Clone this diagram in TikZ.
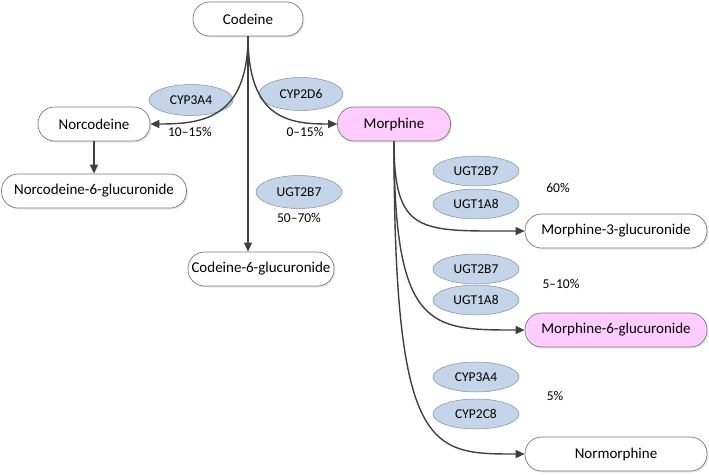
\documentclass[tikz,border=0pt]{standalone}
\usepackage{fontspec}
\setmainfont{Carlito}
\usetikzlibrary{shapes.geometric,shadows,arrows.meta}
\definecolor{pinkfill}{RGB}{255,204,255}
\definecolor{enzfill}{RGB}{196,213,233}
\definecolor{enzline}{RGB}{130,140,155}
\definecolor{boxline}{RGB}{120,120,120}
\definecolor{arrowcol}{RGB}{64,64,64}
\begin{document}
\begin{tikzpicture}[x=1pt,y=-1pt,
  compound/.style={draw=boxline,line width=0.7pt,fill=white,rectangle,rounded corners=16.5pt,
    minimum height=34pt,inner sep=0pt,font=\fontsize{15}{18}\selectfont,
    drop shadow={opacity=0.18,shadow xshift=1.5pt,shadow yshift=-1.5pt}},
  pinkbox/.style={compound,fill=pinkfill},
  enzyme/.style={draw=enzline,line width=0.5pt,fill=enzfill,ellipse,minimum width=86pt,
    minimum height=30pt,inner sep=0pt,font=\fontsize{13.5}{16}\selectfont},
  pct/.style={font=\fontsize{13.5}{16}\selectfont,inner sep=0pt},
  conn/.style={draw=arrowcol,line width=1.4pt,-{Triangle[length=9pt,width=8pt]}}]
\useasboundingbox (0,0) rectangle (709,474);

% compounds
\node[compound,minimum width=110pt] (codeine) at (248,19) {Codeine};
\node[compound,minimum width=112pt] (norcodeine) at (94,124) {Norcodeine};
\node[compound,minimum width=185pt] (n6g) at (94,191) {Norcodeine-6-glucuronide};
\node[compound,minimum width=146pt] (c6g) at (261,269) {Codeine-6-glucuronide};
\node[pinkbox,minimum width=113pt] (morphine) at (394,124) {Morphine};
\node[compound,minimum width=182pt] (m3g) at (616,231) {Morphine-3-glucuronide};
\node[pinkbox,minimum width=182pt] (m6g) at (616,330) {Morphine-6-glucuronide};
\node[compound,minimum width=182pt] (normorphine) at (616,454) {Normorphine};

% enzymes
\node[enzyme,minimum width=84pt,minimum height=31pt] (cyp3a4a) at (191,100) {CYP3A4};
\node[enzyme,minimum width=84pt,minimum height=33pt] (cyp2d6) at (301,94) {CYP2D6};
\node[enzyme,minimum height=33pt] (ugt2b7a) at (299,192) {UGT2B7};
\node[enzyme] (ugt2b7b) at (476,171) {UGT2B7};
\node[enzyme] (ugt1a8b) at (476,204) {UGT1A8};
\node[enzyme] (ugt2b7c) at (476,269) {UGT2B7};
\node[enzyme] (ugt1a8c) at (476,300) {UGT1A8};
\node[enzyme] (cyp3a4b) at (476,377) {CYP3A4};
\node[enzyme] (cyp2c8) at (476,414) {CYP2C8};

% percentages
\node[pct] (p1) at (190,132) {10–15\%};
\node[pct] (p2) at (305,132) {0–15\%};
\node[pct] (p3) at (299,218) {50–70\%};
\node[pct] (p4) at (558,188) {60\%};
\node[pct] (p5) at (561,284) {5–10\%};
\node[pct] (p6) at (555,396) {5\%};

% connectors
\draw[conn] (codeine.south) .. controls (248,120) and (200,124) .. (norcodeine.east);
\draw[conn] (codeine.south) .. controls (248,120) and (290,124) .. (morphine.west);
\draw[conn] (codeine.south) -- (c6g.north -| codeine.south);
\draw[conn] (norcodeine.south) -- (n6g.north);
\draw[conn] (morphine.south) .. controls (394,235) and (420,231) .. (m3g.west);
\draw[conn] (morphine.south) .. controls (394,330) and (430,330) .. (m6g.west);
\draw[conn] (morphine.south) .. controls (394,454) and (430,454) .. (normorphine.west);
\end{tikzpicture}
\end{document}
